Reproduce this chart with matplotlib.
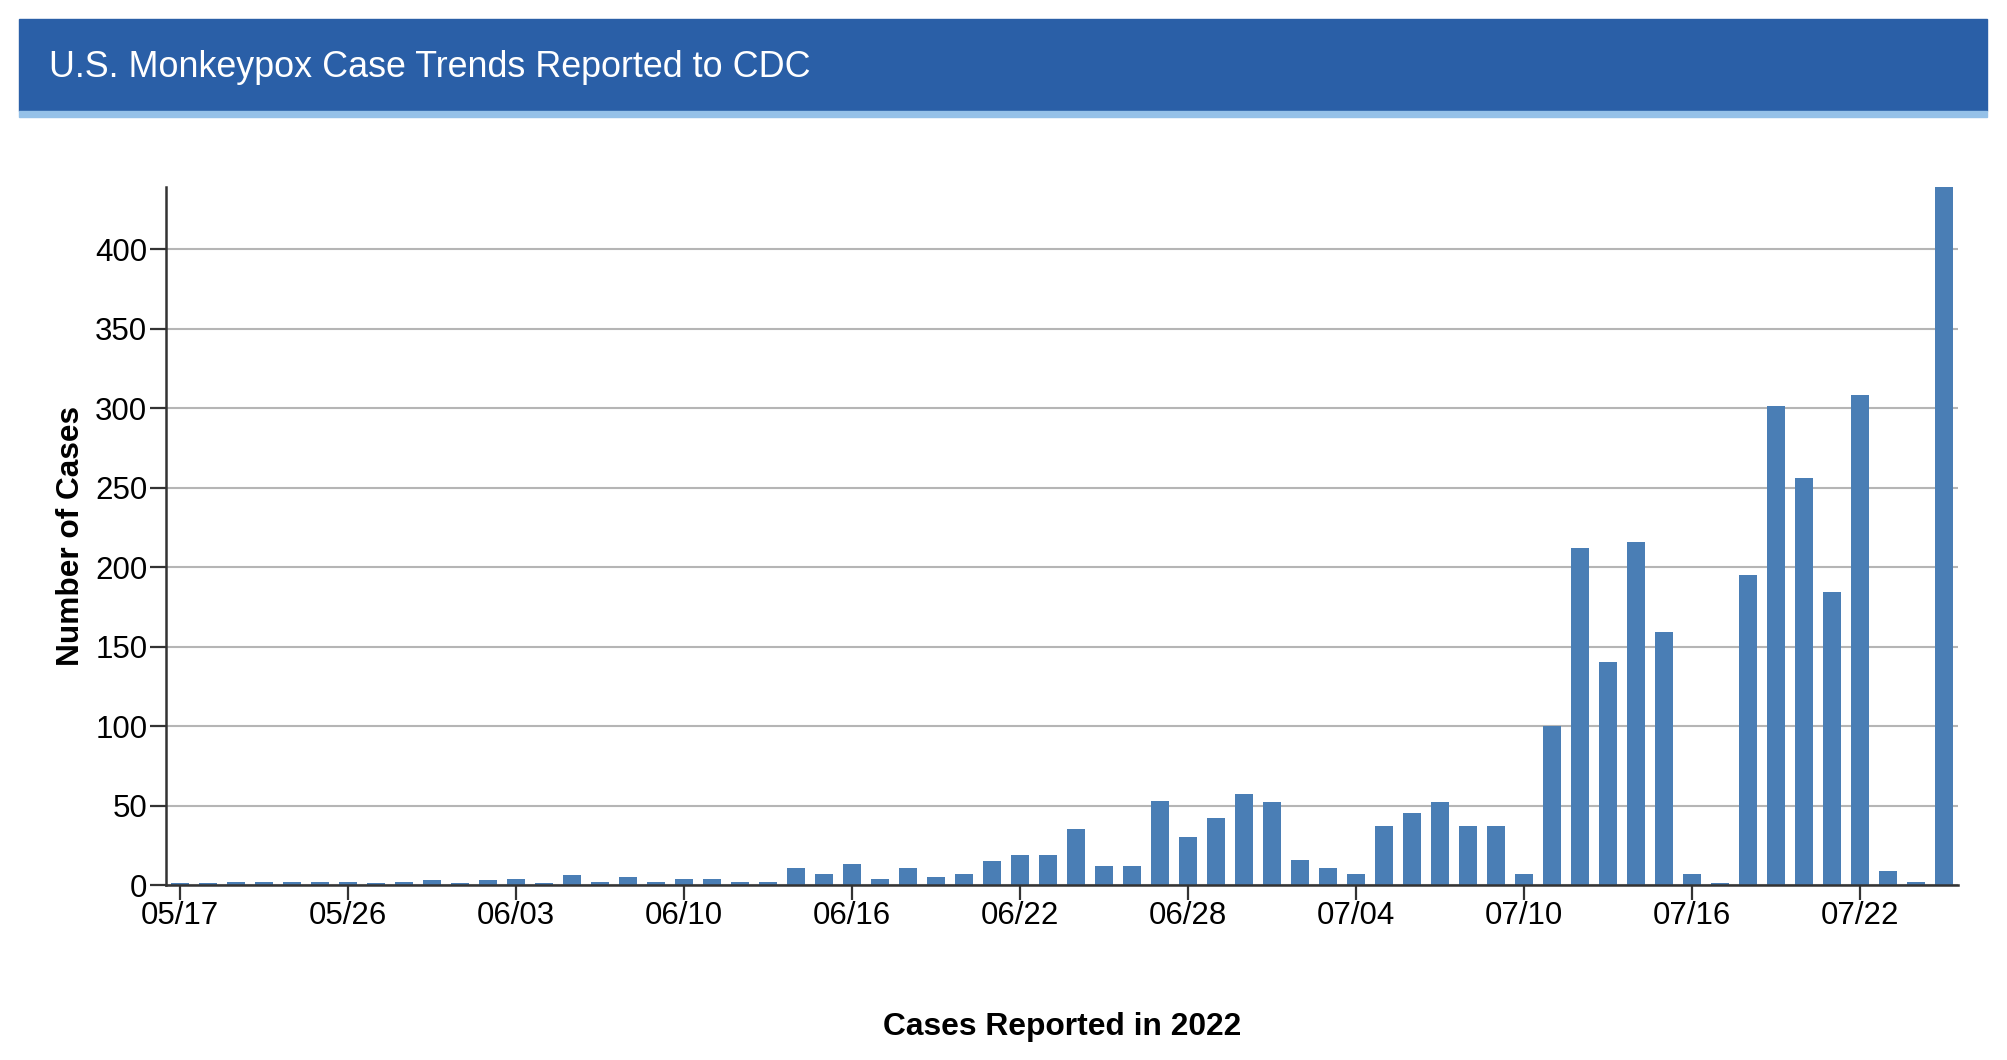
import matplotlib.pyplot as plt
import numpy as np
from matplotlib.patches import Rectangle

plt.rcParams['font.family'] = ['Liberation Sans', 'DejaVu Sans']

# Daglige tilfeller (en søyle per rapportdag)
cases = [1, 1, 2, 2, 2, 2, 2, 1, 2, 3, 1, 3, 4, 1, 6, 2, 5, 2,
         4, 4, 2, 2, 11, 7, 13, 4, 11, 5, 7, 15,
         19, 19, 35, 12, 12, 53, 30, 42, 57, 52, 16, 11,
         7, 37, 45, 52, 37, 37, 7, 100, 212, 140, 216, 159,
         7, 1, 195, 301, 256, 184, 308, 9, 2, 439]

tick_labels = ['05/17', '05/26', '06/03', '06/10', '06/16', '06/22',
               '06/28', '07/04', '07/10', '07/16', '07/22']
y_ticks = [0, 50, 100, 150, 200, 250, 300, 350, 400]

BAR = '#4a7eb5'
MORK = '#333333'

fig = plt.figure(figsize=(20.08, 10.6), dpi=100)

# Overskriftsfelt
fig.patches.append(Rectangle((0.00946, 0.8953), 0.9801, 0.0868,
                             transform=fig.transFigure, color='#2a5fa7', zorder=0))
fig.patches.append(Rectangle((0.00946, 0.8896), 0.9801, 0.0057,
                             transform=fig.transFigure, color='#95c1e8', zorder=0))
fig.text(0.0244, 0.9271, 'U.S. Monkeypox Case Trends Reported to CDC',
         color='white', fontsize=25.8, va='baseline', ha='left')

ax = fig.add_axes([0.08267, 0.16509, 0.97510 - 0.08267, 0.82358 - 0.16509])

x = np.arange(len(cases))
ax.bar(x, cases, width=0.64, color=BAR, zorder=3)

ax.set_xlim(-0.5, 63.5)
ax.set_ylim(0, max(cases))
ax.set_yticks(y_ticks)
ax.set_xticks(np.arange(0, len(cases), 6)[:len(tick_labels)])
ax.set_xticklabels(tick_labels)

ax.grid(axis='y', color='#b5b5b5', linewidth=1.5, zorder=0)
ax.set_axisbelow(True)
for s in ['top', 'right']:
    ax.spines[s].set_visible(False)
for s in ['left', 'bottom']:
    ax.spines[s].set_color(MORK)
    ax.spines[s].set_linewidth(1.8)
    ax.spines[s].set_zorder(4)

ax.tick_params(axis='y', length=11.5, width=1.6, color=MORK, pad=2,
               labelsize=22.5, labelcolor='black')
ax.tick_params(axis='x', length=10.8, width=1.6, color=MORK, pad=1,
               labelsize=22.5, labelcolor='black')

fig.text(0.5289, 0.0240, 'Cases Reported in 2022', fontsize=22.9,
         fontweight='bold', ha='center', va='baseline')
fig.text(0.0354, 0.494, 'Number of Cases', fontsize=22.8, fontweight='bold',
         rotation=90, ha='center', va='center')

plt.savefig('out.png', dpi=100)
